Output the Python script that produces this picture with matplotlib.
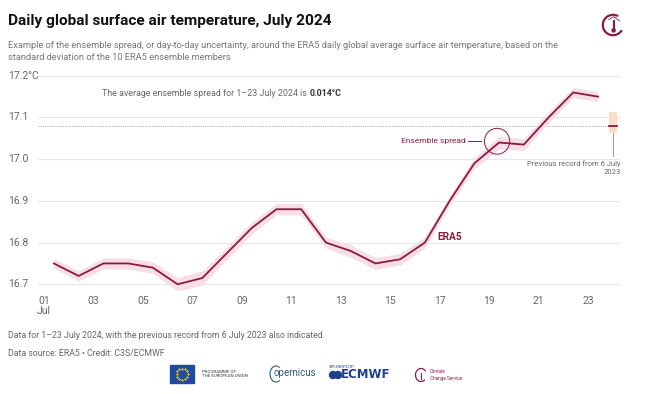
import numpy as np
import matplotlib
matplotlib.use("Agg")
import matplotlib.pyplot as plt
from matplotlib.patches import Rectangle, Ellipse, Arc
from matplotlib import transforms

plt.rcParams["font.family"] = ["Roboto", "DejaVu Sans"]

# daily ERA5 global mean surface air temperature, July 2024
days = np.arange(1, 24)
temp = [16.75, 16.72, 16.75, 16.75, 16.74, 16.70, 16.715, 16.775, 16.835, 16.88,
        16.88, 16.80, 16.78, 16.75, 16.76, 16.80, 16.90, 16.99, 17.04, 17.035,
        17.10, 17.16, 17.15]
# ensemble spread (std of the 10 members)
spread = [0.012, 0.012, 0.013, 0.013, 0.014, 0.016, 0.017, 0.015, 0.014, 0.013,
          0.014, 0.013, 0.015, 0.014, 0.014, 0.013, 0.012, 0.013, 0.015, 0.014,
          0.013, 0.012, 0.012]
# previous record, 6 July 2023
record_val = 17.08
record_lo, record_hi = 17.062, 17.112

xticks = [1, 3, 5, 7, 9, 11, 13, 15, 17, 19, 21, 23]
xticklabels = ["01\nJul", "03", "05", "07", "09", "11", "13", "15", "17", "19", "21", "23"]
yticks = [16.7, 16.8, 16.9, 17.0, 17.1, 17.2]
yticklabels = ["16.7", "16.8", "16.9", "17.0", "17.1", "17.2°C"]

RED = "#8a1c3f"
PINK = "#f7dde5"
GREY = "#666666"
GRID = "#e6e6e6"

W, H = 650, 394
fig = plt.figure(figsize=(W / 100, H / 100), dpi=100)

# plot area: pixel box (38,70)-(620,290)
ax = fig.add_axes([38 / W, 1 - 290 / H, 582 / W, 220 / H])
xpos = days + 0.4
ax.set_xlim(0.757, 24.29)
ax.set_ylim(16.6863, 17.2139)
for s in ax.spines.values():
    s.set_visible(False)
ax.set_yticks(yticks)
ax.set_yticklabels([])
ax.tick_params(axis="y", length=0)
ax.grid(axis="y", color=GRID, lw=0.8)
ax.set_axisbelow(True)
ax.set_xticks(xticks)
ax.set_xticklabels(xticklabels, fontsize=7.5, color=GREY, linespacing=1.1, va="top")
ax.tick_params(axis="x", length=0, pad=4)

lab_tr = transforms.blended_transform_factory(fig.transFigure, ax.transData)
for v, t in zip(yticks, yticklabels):
    ax.text(8 / W, v, t, transform=lab_tr, fontsize=7.5, color=GREY, va="center", ha="left")

t = np.array(temp)
sp = np.array(spread)
ax.fill_between(xpos, t - sp, t + sp, color=PINK, lw=0, zorder=2)
ax.plot(xpos, t, color=RED, lw=1.3, solid_joinstyle="round", zorder=3)

# previous record
ax.axhline(record_val, xmin=0, xmax=(24.0 - 0.757) / (24.29 - 0.757), color="#b5b5b5",
           lw=0.8, ls=(0, (1, 1)), zorder=1)
ax.add_patch(Rectangle((24.0 - 0.16, record_lo), 0.32, record_hi - record_lo,
                       color="#fbdcc9", lw=0, zorder=3))
ax.plot([24.0 - 0.16, 24.0 + 0.16], [record_val, record_val], color=RED, lw=1.3, zorder=4)
ax.plot([24.0, 24.0], [record_lo, 17.008], color="#999999", lw=0.7, zorder=3)
ax.text(24.33, 16.98, "Previous record from 6 July\n2023", fontsize=5.5, color=GREY,
        ha="right", va="center", linespacing=1.5)

# ensemble spread callout
ax.add_patch(Ellipse((19.32, 17.043), 1.02, 0.062, fill=False, ec=RED, lw=0.7, zorder=4))
ax.plot([18.15, 18.67], [17.043, 17.043], color=RED, lw=0.7)
ax.text(18.06, 17.043, "Ensemble spread", fontsize=6, color=RED, ha="right", va="center")
ax.text(16.9, 16.814, "ERA5", fontsize=7.3, color=RED, fontweight="bold", ha="left", va="center")

ax.text(3.35, 17.158, "The average ensemble spread for 1–23 July 2024 is ", fontsize=6.4,
        color=GREY, ha="left", va="center")
ax.annotate("0.014°C", xy=(1, 0.5), xycoords=ax.texts[-1], fontsize=6.4, color="#333333",
            fontweight="bold", ha="left", va="center")

# titles
fig.text(8 / W, 1 - 21 / H, "Daily global surface air temperature, July 2024", fontsize=11.1,
         fontweight="bold", color="#111111", va="center")
fig.text(8 / W, 1 - 51.5 / H,
         "Example of the ensemble spread, or day-to-day uncertainty, around the ERA5 daily global average surface air temperature, based on the\n"
         "standard deviation of the 10 ERA5 ensemble members",
         fontsize=6.7, color="#777777", va="center", linespacing=1.55)
fig.text(8 / W, 1 - 336 / H,
         "Data for 1–23 July 2024, with the previous record from 6 July 2023 also indicated.",
         fontsize=6.3, color=GREY, va="center")
fig.text(8 / W, 1 - 354 / H, "Data source: ERA5 • Credit: C3S/ECMWF", fontsize=6.3,
         color=GREY, va="center")

# top-right icon
ic = fig.add_axes([601 / W, 1 - 37 / H, 24 / W, 24 / H])
ic.set_xlim(-1, 1); ic.set_ylim(-1, 1); ic.axis("off")
ic.add_patch(Arc((0, 0), 1.7, 1.7, theta1=60, theta2=330, color=RED, lw=1.6))
ic.plot([-0.35, 0.05, 0.55], [0.45, 0.7, 0.35], color=RED, lw=0.6)
ic.plot([0.05, 0.05], [0.3, -0.35], color=RED, lw=1.6, solid_capstyle="round")
ic.add_patch(plt.Circle((0.05, -0.45), 0.13, color=RED))

# footer logos
lg = fig.add_axes([0, 0, 1, 1], zorder=-1)
lg.set_xlim(0, W); lg.set_ylim(H, 0); lg.axis("off")
lg.add_patch(Rectangle((170, 365), 24, 18, color="#1f4aa0"))
ang = np.linspace(0, 2 * np.pi, 13)[:-1]
lg.scatter(182 + 5.5 * np.cos(ang), 374 + 5.5 * np.sin(ang), s=0.3, color="#f4d000", marker="*")
lg.text(202, 374, "PROGRAMME OF\nTHE EUROPEAN UNION", fontsize=3.2, color="#333333",
        va="center", linespacing=1.3)
lg.add_patch(Arc((276, 374), 12, 16, theta1=60, theta2=300, color="#2b5a84", lw=0.8))
lg.text(274, 373, "opernicus", fontsize=7, color="#2b5a84", va="center")
lg.text(329, 367, "IMPLEMENTED BY", fontsize=2.2, color="#1f3f8a", va="center")
lg.add_patch(plt.Circle((333, 375), 3.5, color="#1f3f8a"))
lg.add_patch(plt.Circle((338, 375), 3.5, color="#1f3f8a"))
lg.text(341, 375, "ECMWF", fontsize=8.5, color="#1f3f8a", fontweight="bold", va="center",
        family=["DejaVu Sans"])
lg.add_patch(Arc((421, 375), 11, 13, theta1=50, theta2=320, color=RED, lw=0.9))
lg.plot([421, 421], [373, 379], color=RED, lw=0.8)
lg.text(430, 375, "Climate\nChange Service", fontsize=3.3, color=RED, va="center",
        linespacing=1.3)

fig.savefig("out.png", dpi=100, facecolor="white")
